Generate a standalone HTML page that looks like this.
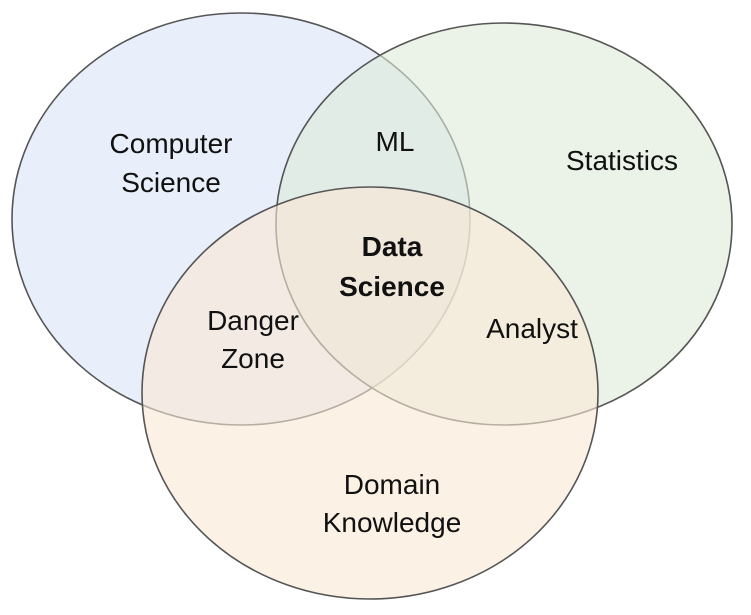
<!DOCTYPE html>
<html><head><meta charset="utf-8"><style>
html,body{margin:0;padding:0;background:#fff;}
</style></head><body>
<svg width="751" height="610" viewBox="0 0 751 610" xmlns="http://www.w3.org/2000/svg">
<ellipse cx="241" cy="219" rx="229" ry="206" fill="#e8eefa" stroke="#555" stroke-width="1.6"/>
<ellipse cx="504" cy="224" rx="228" ry="201" fill="rgb(222,235,217)" fill-opacity="0.6" stroke="#555" stroke-width="1.6"/>
<ellipse cx="370" cy="393" rx="228" ry="206" fill="rgb(250,232,212)" fill-opacity="0.6" stroke="#555" stroke-width="1.6"/>
<g font-family="Liberation Sans, sans-serif" font-size="28" fill="#111" text-anchor="middle">
<text x="171" y="153">Computer</text>
<text x="171" y="192">Science</text>
<text x="395" y="151">ML</text>
<text x="622" y="170">Statistics</text>
<text x="392" y="256" font-weight="bold">Data</text>
<text x="392" y="296" font-weight="bold">Science</text>
<text x="253" y="330">Danger</text>
<text x="253" y="368">Zone</text>
<text x="532" y="338">Analyst</text>
<text x="392" y="494">Domain</text>
<text x="392" y="532">Knowledge</text>
</g>
</svg>
</body></html>
